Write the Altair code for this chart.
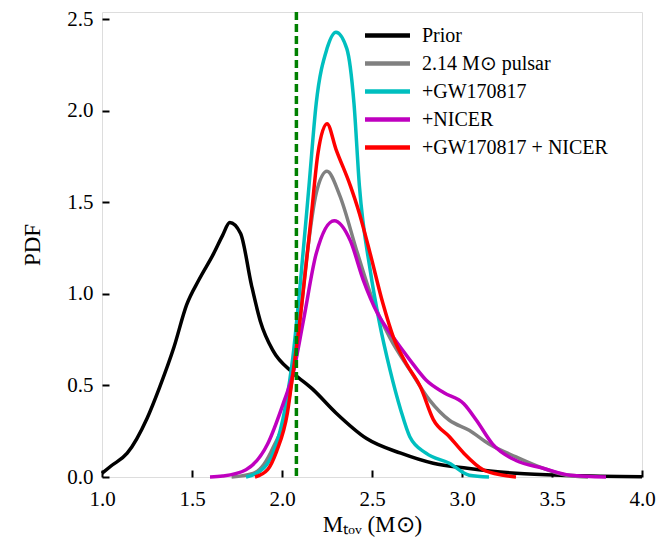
import altair as alt
import pandas as pd

# ---- data ----
prior_x = [1.00, 1.05, 1.14, 1.25, 1.32, 1.40, 1.47, 1.54, 1.62, 1.67, 1.71, 1.77, 1.83, 1.88, 1.95, 2.06, 2.17, 2.30, 2.47, 2.66, 2.84, 3.03, 3.30, 3.60, 4.00]
prior_y = [0.02, 0.06, 0.13, 0.32, 0.49, 0.71, 0.94, 1.08, 1.22, 1.32, 1.39, 1.33, 1.05, 0.85, 0.69, 0.57, 0.48, 0.35, 0.21, 0.13, 0.075, 0.048, 0.02, 0.008, 0.002]

pulsar_x = [1.72, 1.84, 1.90, 1.95, 2.03, 2.06, 2.10, 2.14, 2.19, 2.25, 2.32, 2.42, 2.51, 2.60, 2.71, 2.82, 2.93, 3.04, 3.15, 3.30, 3.45, 3.58, 3.70]
pulsar_y = [0.0, 0.02, 0.07, 0.16, 0.38, 0.56, 0.86, 1.22, 1.55, 1.67, 1.54, 1.22, 0.95, 0.76, 0.585, 0.42, 0.31, 0.255, 0.18, 0.11, 0.048, 0.01, 0.0]

gw_x = [1.80, 1.90, 1.95, 2.02, 2.06, 2.10, 2.15, 2.19, 2.25, 2.30, 2.36, 2.40, 2.43, 2.49, 2.54, 2.60, 2.66, 2.71, 2.80, 2.93, 3.04, 3.15]
gw_y = [0.0, 0.05, 0.13, 0.39, 0.65, 1.04, 1.59, 2.04, 2.34, 2.43, 2.34, 2.04, 1.59, 1.13, 0.85, 0.585, 0.365, 0.22, 0.13, 0.075, 0.01, 0.0]

nicer_x = [1.60, 1.67, 1.80, 1.92, 2.01, 2.06, 2.12, 2.19, 2.29, 2.38, 2.45, 2.53, 2.62, 2.71, 2.80, 2.90, 3.01, 3.08, 3.17, 3.30, 3.45, 3.60, 3.80]
nicer_y = [0.0, 0.005, 0.04, 0.18, 0.41, 0.56, 0.86, 1.22, 1.40, 1.29, 1.08, 0.895, 0.76, 0.64, 0.53, 0.46, 0.40, 0.31, 0.18, 0.09, 0.048, 0.01, 0.0]

both_x = [1.85, 1.92, 1.97, 2.03, 2.06, 2.10, 2.16, 2.20, 2.25, 2.30, 2.38, 2.43, 2.49, 2.56, 2.62, 2.69, 2.77, 2.84, 2.93, 3.01, 3.12, 3.23, 3.30]
both_y = [0.0, 0.04, 0.14, 0.35, 0.56, 0.86, 1.40, 1.77, 1.93, 1.79, 1.59, 1.44, 1.22, 0.95, 0.76, 0.62, 0.49, 0.315, 0.22, 0.13, 0.038, 0.01, 0.0]

labels = ["Prior", "2.14 M⊙ pulsar", "+GW170817", "+NICER", "+GW170817 + NICER"]
colors = ["#000000", "#808080", "#00BFBF", "#BF00BF", "#FF0000"]
pulsar_mass = [2.08]
x_ticks = [1.0, 1.5, 2.0, 2.5, 3.0, 3.5, 4.0]
y_ticks = [0.0, 0.5, 1.0, 1.5, 2.0, 2.5]

series = [(prior_x, prior_y), (pulsar_x, pulsar_y), (gw_x, gw_y), (nicer_x, nicer_y), (both_x, both_y)]
rows = []
for i, (lab, (xs, ys)) in enumerate(zip(labels, series)):
    for x, y in zip(xs, ys):
        rows.append({"series": lab, "order": i, "x": x, "y": y})
df = pd.DataFrame(rows)
vline = pd.DataFrame({"m": pulsar_mass})

W, H = 540, 465
FONT = "Liberation Serif"

xscale = alt.Scale(domain=[1, 4], nice=False)
yscale = alt.Scale(domain=[0, 2.54], nice=False)

x_bottom = alt.Axis(orient="bottom", values=x_ticks, format=".1f", ticks=False, domain=False,
                    grid=False, labelFontSize=21, labelFont=FONT, labelColor="black",
                    labelPadding=11, title="Mₜₒᵥ (M⊙)", titleFont=FONT, titleFontSize=23,
                    titleFontWeight="normal", titleColor="black", titlePadding=4, labelFlush=False)
y_left = alt.Axis(orient="left", values=y_ticks, format=".1f", ticks=False, domain=False,
                  grid=False, labelFontSize=21, labelFont=FONT, labelColor="black",
                  labelPadding=9, title="PDF", titleFont=FONT, titleFontSize=23,
                  titleFontWeight="normal", titleColor="black", titlePadding=22, labelFlush=False)
x_ticks_ax = alt.Axis(orient="top", offset=-H, values=x_ticks, labels=False, domain=False,
                      grid=False, ticks=True, tickSize=7, tickWidth=2, tickColor="black", title="")
y_ticks_ax = alt.Axis(orient="right", offset=-W, values=y_ticks, labels=False, domain=False,
                      grid=False, ticks=True, tickSize=7, tickWidth=2, tickColor="black", title="")

lines = alt.Chart(df).mark_line(strokeWidth=3.5, interpolate="monotone").encode(
    x=alt.X("x:Q", scale=xscale, axis=x_bottom),
    y=alt.Y("y:Q", scale=yscale, axis=y_left),
    color=alt.Color("series:N", scale=alt.Scale(domain=labels, range=colors),
                    sort=labels,
                    legend=alt.Legend(orient="none", legendX=272, legendY=10, title="",
                                      symbolType="M-2,0H2", symbolStrokeWidth=4.5, symbolSize=506,
                                      labelFont=FONT, labelFontSize=20, labelColor="black",
                                      labelLimit=0, labelOffset=21, rowPadding=4, padding=0)),
    order=alt.Order("order:O"),
)

ghost = alt.Chart(df).mark_line(opacity=0).encode(
    x=alt.X("x:Q", scale=xscale, axis=x_ticks_ax),
    y=alt.Y("y:Q", scale=yscale, axis=y_ticks_ax),
    detail="series:N",
)

rule = alt.Chart(vline).mark_rule(color="#008000", strokeWidth=3.5, strokeDash=[8, 4]).encode(
    x=alt.X("m:Q", scale=xscale, axis=None),
)

chart = alt.layer(lines, ghost, rule).resolve_axis(x="independent", y="independent").properties(
    width=W, height=H,
    padding={"left": 94, "top": 4, "right": 18, "bottom": 60},
    autosize=alt.AutoSizeParams(type="none"),
).configure_view(stroke="black", strokeWidth=2.2).configure(background="white")

chart.save("out.html", embed_options={"renderer": "svg", "actions": False})
